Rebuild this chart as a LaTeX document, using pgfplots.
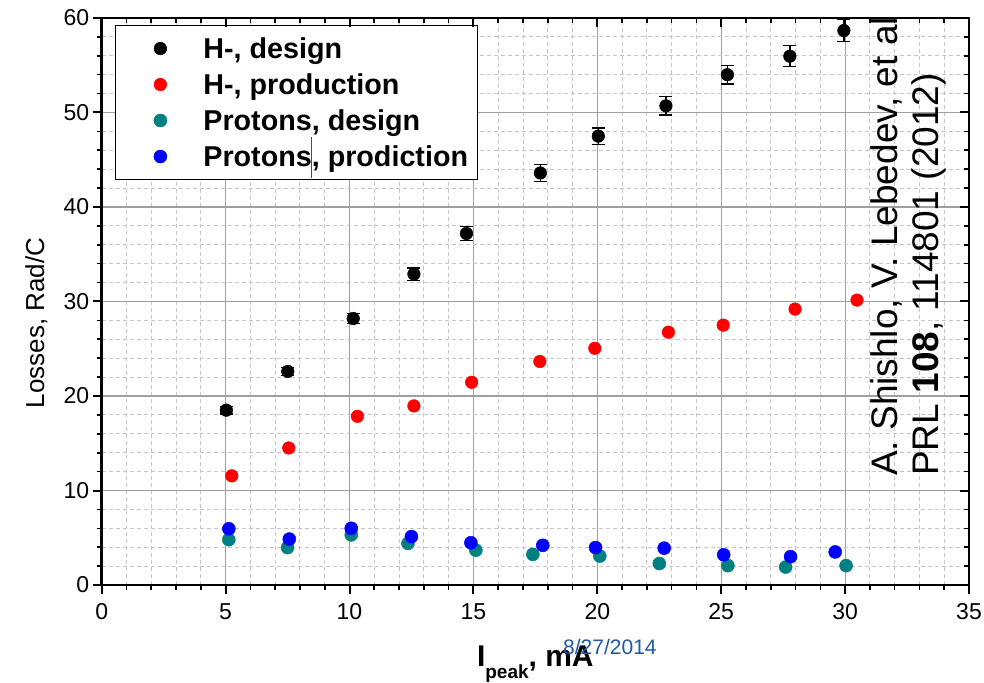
\documentclass[border=0pt]{standalone}
\usepackage{pgfplots}
\usepackage{pgfplotstable}
\pgfplotsset{compat=1.18}
\usepackage{fontspec}
\setmainfont{Liberation Sans}
\definecolor{tealc}{RGB}{0,128,128}
\definecolor{datecol}{RGB}{31,90,160}

\pgfplotstableread{
x y e
5.03 18.5 0.40
7.51 22.6 0.45
10.15 28.2 0.55
12.6 32.9 0.65
14.72 37.2 0.75
17.7 43.6 0.88
20.04 47.5 0.85
22.77 50.7 0.96
25.25 54.0 1.00
27.77 55.96 1.10
29.95 58.67 1.15
}\hdes
\pgfplotstableread{
x y
5.25 11.55
7.55 14.5
10.32 17.85
12.6 18.95
14.93 21.45
17.68 23.65
19.9 25.05
22.87 26.75
25.08 27.5
27.98 29.2
30.48 30.15
}\hprod
\pgfplotstableread{
x y
5.13 4.8
7.5 3.96
10.07 5.3
12.36 4.4
15.1 3.68
17.4 3.24
20.1 3.06
22.5 2.27
25.27 2.05
27.6 1.9
30.04 2.05
}\pdes
\pgfplotstableread{
x y
5.13 5.95
7.57 4.86
10.07 6.0
12.5 5.12
14.9 4.47
17.8 4.2
19.93 3.96
22.7 3.9
25.1 3.2
27.8 3.0
29.6 3.5
}\pprod

\begin{document}
\begin{tikzpicture}
\begin{axis}[
  scale only axis, width=867.3pt, height=567pt,
  at={(0pt,0pt)}, anchor=south west,
  xmin=0, xmax=35, ymin=0, ymax=60,
  xtick={0,5,...,35}, ytick={0,10,...,60},
  minor x tick num=4, minor y tick num=4,
  xtick pos=bottom, ytick pos=left, tick align=outside,
  major tick length=9pt, minor tick length=5pt,
  every major tick/.append style={line width=2pt, black},
  every minor tick/.append style={line width=1.6pt, black},
  axis line style={line width=2.4pt},
  grid=both,
  major grid style={draw=gray!75, line width=1.2pt, solid},
  minor grid style={draw=gray!45, line width=0.9pt, dash pattern=on 4pt off 3pt},
  tick label style={font=\fontsize{23}{26}\selectfont},
  xticklabel style={yshift=-6pt},
  /pgf/number format/assume math mode=true,
  every axis y label/.style={at={(axis description cs:-0.0665,0.462)}, rotate=90, anchor=base, font=\fontsize{26}{30}\selectfont, inner sep=0pt},
  ylabel={Losses, Rad/C},
  every axis x label/.style={at={(axis description cs:0.5,-0.1446)}, anchor=base, inner sep=0pt},
  xlabel={\fontsize{30}{34}\selectfont\bfseries I\raisebox{-12pt}{\fontsize{19}{20}\selectfont peak}, mA},
  legend style={at={(0.01534,0.9877)}, anchor=north west, draw=black, line width=0.8pt, fill=white,
    font=\fontsize{28.7}{30}\selectfont\bfseries, inner xsep=9pt, inner ysep=12pt, row sep=13.7pt,
    nodes={inner sep=0pt},
    /tikz/every even column/.append style={column sep=0pt}},
  legend cell align=left,
  legend image code/.code={\path[draw=none] (-36pt,0pt) (43pt,0pt); \draw[#1] plot coordinates {(0pt,0pt)};},
]
\addplot[only marks, mark=*, mark size=6.3pt, black, line width=0.5pt,
  error bars/.cd, y dir=both, y explicit,
  error bar style={line width=1.3pt},
  error mark options={rotate=90, mark size=6.5pt, line width=1.3pt}]
  table[x=x, y=y, y error=e] {\hdes};
\addlegendentry{H-, design}
\addplot[only marks, mark=*, mark size=6.3pt, red, line width=0.5pt] table[x=x, y=y] {\hprod};
\addlegendentry{H-, production}
\addplot[only marks, mark=*, mark size=6.5pt, tealc, line width=0.5pt] table[x=x, y=y] {\pdes};
\addlegendentry{Protons, design}
\addplot[only marks, mark=*, mark size=6.5pt, blue, line width=0.5pt] table[x=x, y=y] {\pprod};
\addlegendentry{Protons, prodiction}
\end{axis}
\begin{axis}[
  scale only axis, width=867.3pt, height=567pt,
  at={(0pt,0pt)}, anchor=south west,
  xmin=0, xmax=35, ymin=0, ymax=60,
  xtick={0,5,...,35}, ytick={0,10,...,60},
  minor x tick num=4, minor y tick num=4,
  xtick pos=top, ytick pos=right, tick align=inside,
  xticklabels={}, yticklabels={},
  major tick length=9pt, minor tick length=5pt,
  every major tick/.append style={line width=2pt, black},
  every minor tick/.append style={line width=1.6pt, black},
  axis line style={line width=2.4pt},
]
\end{axis}
\draw[black!70, line width=1pt] (210pt,448pt) -- (210pt,407pt);
\node[rotate=90, anchor=base west, inner sep=0pt, font=\fontsize{37}{40}\selectfont] at (795.3pt,109pt) {A. Shishlo, V. Lebedev, et al};
\node[rotate=90, anchor=base west, inner sep=0pt, font=\fontsize{37}{40}\selectfont] at (836.3pt,109pt) {PRL \textbf{108}, 114801 (2012)};
\node[anchor=base west, inner sep=0pt, text=datecol, font=\fontsize{21}{24}\selectfont] at (461.3pt,-69pt) {8/27/2014};
\pgfresetboundingbox
\path[use as bounding box] (-101.7pt,-97pt) rectangle (882.3pt,585pt);
\end{tikzpicture}
\end{document}
